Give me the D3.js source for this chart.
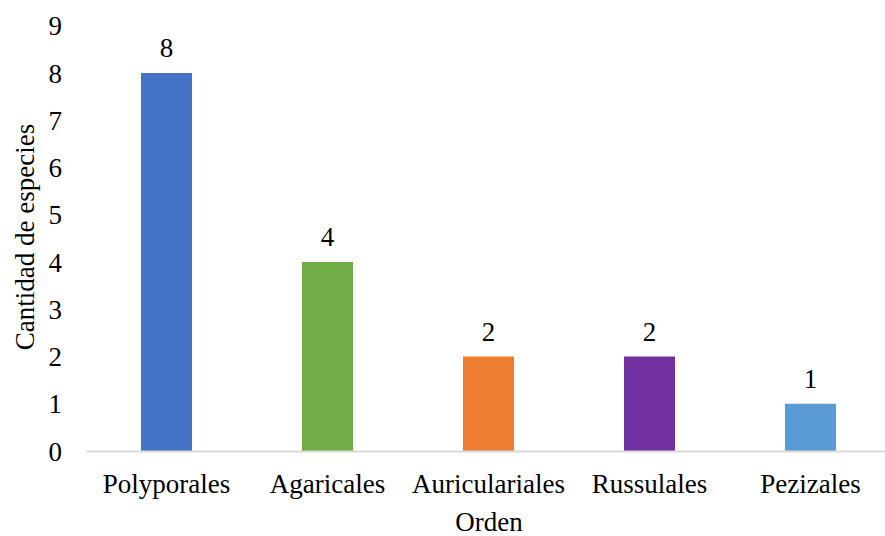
<!DOCTYPE html>
<html>
<head>
<meta charset="utf-8">
<script src="https://cdn.jsdelivr.net/npm/d3@7"></script>
<style>
  body { margin: 0; background: #fff; }
  text { font-family: "Liberation Serif", "Times New Roman", Times, serif; fill: #000; }
</style>
</head>
<body>
<svg id="chart" width="885" height="536"></svg>
<script>
// chart data
var ordenes  = [ 'Polyporales', 'Agaricales', 'Auriculariales', 'Russulales', 'Pezizales' ];
var especies = [ 8, 4, 2, 2, 1 ];
var yTicks   = [ 0, 1, 2, 3, 4, 5, 6, 7, 8, 9 ];
var colores  = [ '#4472C4', '#70AD47', '#ED7D31', '#7030A0', '#5B9BD5' ];

var serif = '"Liberation Serif", "Times New Roman", Times, serif';

var svg = d3.select( '#chart' );

var xScale = d3.scaleBand()
		.domain( ordenes )
		.range( [ 86, 891 ] )
		.padding( 0 );

var yScale = d3.scaleLinear()
		.domain( [ 0, 9 ] )
		.range( [ 451, 25.75 ] );

var barW = xScale.bandwidth() * 0.317;

// y axis labels (no line)
var yAxis = d3.axisLeft( yScale ).tickValues( yTicks ).tickSize( 0 ).tickPadding( 0 );
var gy = svg.append( 'g' )
		.attr( 'transform', 'translate(62,0)' )
		.call( yAxis );
gy.attr( 'font-family', null );
gy.select( '.domain' ).remove();
gy.selectAll( 'text' )
		.style( 'font-family', serif )
		.style( 'font-size', '27px' )
		.attr( 'fill', '#000' )
		.attr( 'dy', '0.34em' );

// bars
svg.selectAll( '.bar' )
		.data( especies )
		.enter()
		.append( 'rect' )
		.attr( 'class', 'bar' )
		.attr( 'x', function ( d, i ) { return xScale( ordenes[ i ] ) + ( xScale.bandwidth() - barW ) / 2; })
		.attr( 'y', function ( d ) { return yScale( d ); })
		.attr( 'width', barW )
		.attr( 'height', function ( d ) { return yScale( 0 ) - yScale( d ); })
		.attr( 'fill', function ( d, i ) { return colores[ i ]; });

// x axis line + labels
var xAxis = d3.axisBottom( xScale ).tickSize( 0 ).tickPadding( 0 );
var gx = svg.append( 'g' )
		.attr( 'transform', 'translate(0,' + yScale( 0 ) + ')' )
		.call( xAxis );
gx.attr( 'font-family', null );
gx.select( '.domain' )
		.attr( 'stroke', '#d9d9d9' )
		.attr( 'stroke-width', 2 );
gx.selectAll( 'text' )
		.style( 'font-family', serif )
		.style( 'font-size', '27px' )
		.attr( 'fill', '#000' )
		.attr( 'dy', null )
		.attr( 'y', 42 );

// value labels
svg.selectAll( '.lbl' )
		.data( especies )
		.enter()
		.append( 'text' )
		.attr( 'class', 'lbl' )
		.attr( 'x', function ( d, i ) { return xScale( ordenes[ i ] ) + xScale.bandwidth() / 2; })
		.attr( 'y', function ( d ) { return yScale( d ) - 16; })
		.attr( 'text-anchor', 'middle' )
		.style( 'font-family', serif )
		.style( 'font-size', '27px' )
		.text( function ( d ) { return d; });

// axis titles
svg.append( 'text' )
		.attr( 'transform', 'translate(34,237) rotate(-90)' )
		.attr( 'text-anchor', 'middle' )
		.style( 'font-family', serif )
		.style( 'font-size', '27px' )
		.text( 'Cantidad de especies' );

svg.append( 'text' )
		.attr( 'x', 489 )
		.attr( 'y', 531 )
		.attr( 'text-anchor', 'middle' )
		.style( 'font-family', serif )
		.style( 'font-size', '27px' )
		.text( 'Orden' );
</script>
</body>
</html>
